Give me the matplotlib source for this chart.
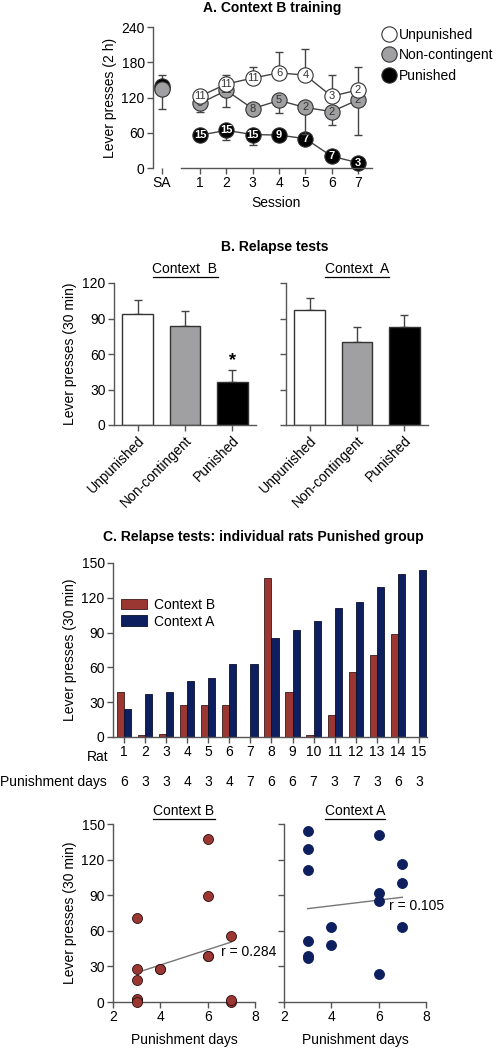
import matplotlib
matplotlib.use("Agg")
import matplotlib.pyplot as plt
import matplotlib.transforms as mtransforms
from matplotlib.lines import Line2D
import numpy as np

plt.rcParams["font.family"] = ["Liberation Sans", "DejaVu Sans"]
plt.rcParams["font.size"] = 10

W, H = 497, 1050

# ── Panel A: Context B training ─────────────────────────────────────────────
sessions = [1, 2, 3, 4, 5, 6, 7]
unp_mean = [122, 143, 153, 162, 158, 122, 133]
unp_err_up = [0, 15, 19, 36, 45, 36, 39]
unp_n = [11, 11, 11, 6, 4, 3, 2]
nc_mean = [110, 132, 101, 115, 103, 96, 116]
nc_err_dn = [15, 28, 0, 21, 45, 22, 59]
nc_n = [8, 11, 8, 5, 2, 2, 2]
pun_mean = [56, 64, 57, 56, 50, 20, 9]
pun_err_dn = [0, 16, 17, 0, 0, 0, 0]
pun_n = [15, 15, 15, 9, 7, 7, 3]
sa_mean = {"Unpunished": 137, "Non-contingent": 135, "Punished": 139}
sa_err_up = 22
sa_err_dn = 34

# ── Panel B: Relapse tests (group means) ────────────────────────────────────
groups = ["Unpunished", "Non-contingent", "Punished"]
ctxB_mean = [94, 83.5, 36]
ctxB_err = [12, 12.5, 10.5]
ctxA_mean = [97, 70.5, 83]
ctxA_err = [10, 12.5, 10]

# ── Panel C/D: individual rats, Punished group ──────────────────────────────
rats = list(range(1, 16))
rat_ctxB = [39, 1.5, 2.5, 28, 28, 27.5, 0, 137, 39, 1.5, 18.6, 56, 71, 89, 0]
rat_ctxA = [24, 37.5, 38.6, 48, 51, 63, 63, 85, 92, 100, 111, 116, 129, 140.6, 143.7]
pun_days = [6, 3, 3, 4, 3, 4, 7, 6, 6, 7, 3, 7, 3, 6, 3]
r_ctxB = "r = 0.284"
r_ctxA = "r = 0.105"

grp_colors = {"Unpunished": "white", "Non-contingent": "#a0a0a2", "Punished": "black"}
red = "#9b3733"
navy = "#0d1f5e"
axis_col = "#555555"


def box(x0, y0, x1, y1):
    """pixel box (left, top, right, bottom) -> fig rect"""
    return [x0 / W, 1 - y1 / H, (x1 - x0) / W, (y1 - y0) / H]


def style(ax, left=True, bottom=True):
    for s in ["top", "right"]:
        ax.spines[s].set_visible(False)
    ax.spines["left"].set_visible(left)
    ax.spines["bottom"].set_visible(bottom)
    for s in ["left", "bottom"]:
        ax.spines[s].set_color(axis_col)
        ax.spines[s].set_linewidth(1.0)
    ax.tick_params(direction="out", length=4, width=1, color=axis_col, labelsize=10, pad=2)


def ylabel_at(ax, text, x_px, ax_left, ax_width):
    # label anchor is the right edge of the rotated text, so shift by ~half its height
    ax.set_ylabel(text)
    ax.yaxis.set_label_coords((x_px + 7 - ax_left) / ax_width, 0.5)


def underline(fig, txt):
    fig.canvas.draw()
    bb = txt.get_window_extent().transformed(fig.transFigure.inverted())
    fig.add_artist(Line2D([bb.x0, bb.x1], [bb.y0 - 0.001, bb.y0 - 0.001],
                          transform=fig.transFigure, color="black", lw=0.9))


fig = plt.figure(figsize=(W / 100, H / 100), dpi=100)

# ── A ───────────────────────────────────────────────────────────────────────
ax_sa = fig.add_axes(box(153, 27, 171, 168))
ax_s = fig.add_axes(box(181, 27, 372, 168))
style(ax_sa, bottom=False)
style(ax_s, left=False)
ax_sa.set_ylim(0, 240)
ax_s.set_ylim(0, 240)
ax_sa.set_yticks([0, 60, 120, 180, 240])
ax_s.set_yticks([])
ax_sa.set_xlim(0, 1)
ax_sa.set_xticks([0.5])
ax_sa.set_xticklabels(["SA"])
ax_sa.tick_params(axis="x", length=4)
ax_s.set_xlim(0.28, 7.53)
ax_s.set_xticks(sessions)
ax_s.set_xlabel("Session", labelpad=4)
ylabel_at(ax_sa, "Lever presses (2 h)", 110, 153, 18)

ms = 11
order = [("Punished", pun_mean, pun_err_dn, pun_n, "dn"),
         ("Non-contingent", nc_mean, nc_err_dn, nc_n, "dn"),
         ("Unpunished", unp_mean, unp_err_up, unp_n, "up")]
for z, (name, mean, err, ns, side) in enumerate(order):
    yerr = [[0] * 7, err] if side == "up" else [err, [0] * 7]
    zb = 2 + 2 * z
    ax_s.errorbar(sessions, mean, yerr=yerr, fmt="none", ecolor="#444444",
                  elinewidth=1, capsize=3, capthick=1, zorder=zb)
    ax_s.plot(sessions, mean, "-", color="#444444", lw=1, zorder=zb)
    ax_s.plot(sessions, mean, "o", ms=ms, mfc=grp_colors[name], mec="#333333",
              mew=0.8, zorder=zb + 0.5, clip_on=False)
    tc = "white" if name == "Punished" else "#333333"
    for x, y, n in zip(sessions, mean, ns):
        ax_s.text(x, y, str(n), ha="center", va="center", fontsize=8,
                  color=tc, fontweight="bold" if name == "Punished" else "normal",
                  zorder=zb + 1)

ax_sa.errorbar([0.5], [sa_mean["Unpunished"]], yerr=[[0], [sa_err_up]], fmt="none",
               ecolor="#444444", elinewidth=1, capsize=3)
ax_sa.errorbar([0.5], [sa_mean["Non-contingent"]], yerr=[[sa_err_dn], [0]], fmt="none",
               ecolor="#444444", elinewidth=1, capsize=3)
for name in ["Unpunished", "Punished", "Non-contingent"]:
    ax_sa.plot([0.5], [sa_mean[name]], "o", ms=ms, mfc=grp_colors[name],
               mec="#333333", mew=0.8, clip_on=False)

fig.text(272 / W, 1 - 8 / H, "A. Context B training", ha="center", va="center",
         fontweight="bold", fontsize=10)
handles = [Line2D([], [], ls="none", marker="o", ms=ms, mfc=grp_colors[g],
                  mec="#333333", mew=0.8, label=g) for g in groups]
fig.legend(handles=handles, loc="upper left", bbox_to_anchor=(381 / W, 1 - 28 / H),
           frameon=False, handletextpad=0.1, labelspacing=0.45, fontsize=10,
           handlelength=1.2, borderpad=0, borderaxespad=0)

# ── B ───────────────────────────────────────────────────────────────────────
fig.text(275 / W, 1 - 247 / H, "B. Relapse tests", ha="center", va="center",
         fontweight="bold", fontsize=10)
panels_b = [(box(114, 283, 256, 425), ctxB_mean, ctxB_err, "Context  B", True),
            (box(286, 283, 428, 425), ctxA_mean, ctxA_err, "Context  A", False)]
sub_txts = []
for rect, mean, err, title, first in panels_b:
    ax = fig.add_axes(rect)
    style(ax)
    x = np.arange(len(groups))
    ax.bar(x, mean, width=0.65, color=[grp_colors[g] for g in groups],
           edgecolor="#333333", linewidth=1, zorder=2)
    ax.errorbar(x, mean, yerr=[[0] * 3, err], fmt="none", ecolor="#444444",
                elinewidth=1, capsize=3, capthick=1, zorder=1)
    ax.set_xlim(-0.5, 2.5)
    ax.set_ylim(0, 120)
    ax.set_yticks([0, 30, 60, 90, 120])
    ax.set_xticks(x)
    ax.set_xticklabels(groups, rotation=45, ha="right", rotation_mode="anchor")
    if first:
        ylabel_at(ax, "Lever presses (30 min)", 70, 114, 142)
        ax.text(2, mean[2] + err[2] + 1, "*", ha="center", va="bottom",
                fontsize=13, fontweight="bold")
    else:
        ax.set_yticklabels([])
    t = ax.text(0.5, 1.1, title, transform=ax.transAxes, ha="center", va="center",
                fontsize=10)
    sub_txts.append(t)

# ── C ───────────────────────────────────────────────────────────────────────
fig.text(263 / W, 1 - 537 / H, "C. Relapse tests: individual rats Punished group",
         ha="center", va="center", fontweight="bold", fontsize=10)
axc = fig.add_axes(box(113, 563, 427, 737))
style(axc)
rx = np.array(rats)
axc.bar(rx, rat_ctxB, width=-0.34, align="edge", color=red, edgecolor="#3a1a18",
        linewidth=0.6, label="Context B")
axc.bar(rx, rat_ctxA, width=0.34, align="edge", color=navy, edgecolor="#0a0f2a",
        linewidth=0.6, label="Context A")
axc.set_xlim(0.48, 15.38)
axc.set_ylim(0, 150)
axc.set_yticks([0, 30, 60, 90, 120, 150])
axc.set_xticks(rx)
axc.set_xticklabels([str(r) for r in rats])
ylabel_at(axc, "Lever presses (30 min)", 70, 113, 314)
axc.legend(loc="upper left", bbox_to_anchor=(0.025, 0.80), frameon=False,
           fontsize=10, handlelength=1.9, handleheight=0.8, handletextpad=0.5,
           labelspacing=0.2, borderpad=0, borderaxespad=0)
fig.text(98 / W, 1 - 757 / H, "Rat", ha="center", va="center", fontsize=10)
fig.text(0, 1 - 782 / H, "Punishment days", ha="left", va="center", fontsize=10)
tr = mtransforms.blended_transform_factory(axc.transData, fig.transFigure)
for r, d in zip(rats, pun_days):
    axc.text(r, 1 - 782 / H, str(d), transform=tr, ha="center", va="center",
             fontsize=10)

# ── D ───────────────────────────────────────────────────────────────────────
panels_d = [(box(113, 824, 255, 1002), rat_ctxB, red, "Context B", r_ctxB, (6.55, 42), True),
            (box(284, 824, 426, 1002), rat_ctxA, navy, "Context A", r_ctxA, (6.45, 81), False)]
for rect, vals, col, title, rtxt, rpos, first in panels_d:
    ax = fig.add_axes(rect)
    style(ax)
    ax.scatter(pun_days, vals, s=52, color=col, edgecolors="#2a1010" if col == red else navy,
               linewidths=0.6, zorder=3, clip_on=False)
    k, b = np.polyfit(pun_days, vals, 1)
    xs = np.array([min(pun_days), max(pun_days)])
    ax.plot(xs, k * xs + b, color="#777777", lw=1, zorder=2)
    ax.text(rpos[0], rpos[1], rtxt, ha="left", va="center", fontsize=10, zorder=4)
    ax.set_xlim(2, 8)
    ax.set_ylim(0, 150)
    ax.set_xticks([2, 4, 6, 8])
    ax.set_yticks([0, 30, 60, 90, 120, 150])
    ax.set_xlabel("Punishment days", labelpad=6)
    if first:
        ylabel_at(ax, "Lever presses (30 min)", 70, 113, 142)
    else:
        ax.set_yticklabels([])
    t = ax.text(0.5, 1.075, title, transform=ax.transAxes, ha="center", va="center",
                fontsize=10)
    sub_txts.append(t)

for t in sub_txts:
    underline(fig, t)

fig.savefig("out.png", dpi=100)
